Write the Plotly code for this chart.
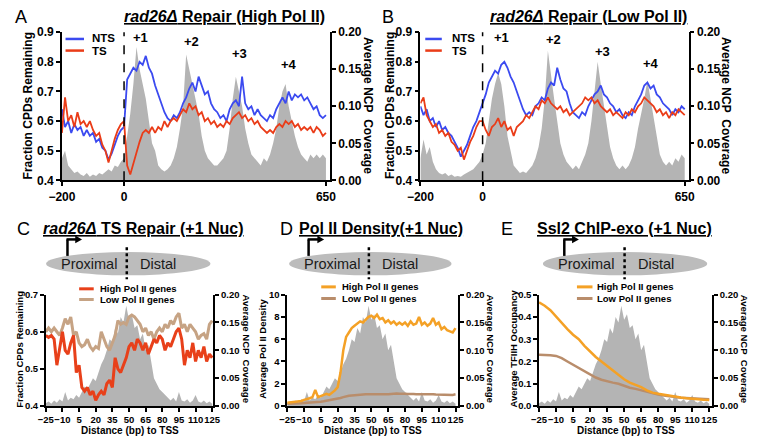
import plotly.graph_objects as go

W, H = 757, 444
FONT = "Liberation Sans"

# ---------------- data ----------------
TOP_X = list(range(-200, 651, 10))

A_NTS = [0.64, 0.58, 0.60, 0.56, 0.59, 0.57, 0.58, 0.55, 0.57, 0.55,
         0.56, 0.53, 0.54, 0.51, 0.50, 0.47, 0.49, 0.52, 0.55, 0.57,
         0.58, 0.74, 0.76, 0.78, 0.77, 0.80, 0.79, 0.82, 0.78, 0.76,
         0.72, 0.69, 0.66, 0.63, 0.61, 0.60, 0.62, 0.61, 0.63, 0.66,
         0.68, 0.71, 0.73, 0.70, 0.75, 0.72, 0.69, 0.70, 0.66, 0.64,
         0.63, 0.61, 0.62, 0.60, 0.64, 0.66, 0.67, 0.65, 0.75, 0.66,
         0.64, 0.65, 0.62, 0.64, 0.62, 0.61, 0.60, 0.62, 0.61, 0.64,
         0.66, 0.68, 0.66, 0.70, 0.67, 0.69, 0.68, 0.69, 0.67, 0.68,
         0.66, 0.64, 0.65, 0.62, 0.61, 0.62]
A_TS = [0.56, 0.68, 0.60, 0.62, 0.58, 0.63, 0.59, 0.60, 0.58, 0.60,
        0.57, 0.55, 0.56, 0.52, 0.50, 0.46, 0.50, 0.54, 0.57, 0.59,
        0.60, 0.45, 0.42, 0.46, 0.50, 0.53, 0.56, 0.57, 0.56, 0.58,
        0.56, 0.58, 0.57, 0.60, 0.58, 0.60, 0.61, 0.60, 0.62, 0.64,
        0.63, 0.66, 0.64, 0.65, 0.62, 0.63, 0.60, 0.61, 0.59, 0.60,
        0.58, 0.59, 0.58, 0.60, 0.59, 0.61, 0.62, 0.63, 0.61, 0.62,
        0.60, 0.61, 0.59, 0.60, 0.58, 0.57, 0.56, 0.57, 0.56, 0.58,
        0.59, 0.58, 0.60, 0.59, 0.60, 0.58, 0.59, 0.57, 0.58, 0.57,
        0.58, 0.56, 0.58, 0.57, 0.55, 0.56]
A_NCP = [0.030, 0.040, 0.020, 0.015, 0.010, 0.012, 0.008, 0.006, 0.010, 0.005,
         0.008, 0.006, 0.010, 0.008, 0.012, 0.015, 0.012, 0.020, 0.018, 0.025,
         0.030, 0.060, 0.090, 0.130, 0.180, 0.150, 0.130, 0.110, 0.080, 0.050,
         0.040, 0.020, 0.015, 0.012, 0.015, 0.020, 0.030, 0.045, 0.070, 0.100,
         0.170, 0.150, 0.130, 0.110, 0.090, 0.060, 0.040, 0.030, 0.025, 0.020,
         0.020, 0.025, 0.030, 0.040, 0.070, 0.110, 0.140, 0.120, 0.100, 0.070,
         0.050, 0.035, 0.030, 0.025, 0.020, 0.030, 0.025, 0.035, 0.050, 0.070,
         0.100, 0.120, 0.130, 0.100, 0.080, 0.060, 0.045, 0.035, 0.030, 0.025,
         0.035, 0.030, 0.035, 0.030, 0.035, 0.030]

B_NTS = [0.65, 0.62, 0.64, 0.60, 0.61, 0.58, 0.60, 0.57, 0.58, 0.56,
         0.55, 0.53, 0.51, 0.48, 0.50, 0.52, 0.55, 0.58, 0.60, 0.63,
         0.66, 0.69, 0.73, 0.75, 0.77, 0.76, 0.79, 0.80, 0.78, 0.75,
         0.73, 0.70, 0.67, 0.64, 0.62, 0.63, 0.62, 0.65, 0.66, 0.68,
         0.67, 0.71, 0.73, 0.72, 0.78, 0.74, 0.71, 0.70, 0.66, 0.63,
         0.62, 0.61, 0.63, 0.62, 0.65, 0.67, 0.69, 0.70, 0.72, 0.69,
         0.68, 0.66, 0.65, 0.63, 0.64, 0.62, 0.61, 0.63, 0.62, 0.65,
         0.67, 0.69, 0.72, 0.73, 0.71, 0.72, 0.69, 0.68, 0.66, 0.65,
         0.64, 0.62, 0.64, 0.63, 0.65, 0.64]
B_TS = [0.66, 0.68, 0.62, 0.60, 0.58, 0.59, 0.56, 0.57, 0.55, 0.56,
        0.53, 0.52, 0.50, 0.51, 0.47, 0.50, 0.53, 0.55, 0.58, 0.60,
        0.60, 0.57, 0.55, 0.58, 0.59, 0.61, 0.58, 0.60, 0.57, 0.58,
        0.55, 0.58, 0.59, 0.60, 0.62, 0.61, 0.63, 0.65, 0.64, 0.67,
        0.66, 0.68, 0.66, 0.65, 0.64, 0.65, 0.63, 0.64, 0.62, 0.63,
        0.64, 0.65, 0.66, 0.68, 0.67, 0.68, 0.66, 0.67, 0.65, 0.64,
        0.63, 0.64, 0.62, 0.63, 0.62, 0.61, 0.63, 0.62, 0.64, 0.63,
        0.65, 0.66, 0.68, 0.67, 0.66, 0.65, 0.63, 0.64, 0.62, 0.63,
        0.61, 0.63, 0.62, 0.64, 0.63, 0.62]
B_NCP = [0.030, 0.055, 0.035, 0.045, 0.025, 0.015, 0.010, 0.008, 0.010, 0.006,
         0.008, 0.005, 0.006, 0.005, 0.008, 0.010, 0.012, 0.015, 0.020, 0.025,
         0.035, 0.050, 0.080, 0.110, 0.130, 0.145, 0.130, 0.100, 0.060, 0.040,
         0.020, 0.015, 0.010, 0.012, 0.010, 0.015, 0.020, 0.030, 0.045, 0.070,
         0.110, 0.175, 0.140, 0.110, 0.080, 0.050, 0.035, 0.025, 0.020, 0.015,
         0.020, 0.015, 0.025, 0.035, 0.050, 0.080, 0.120, 0.160, 0.130, 0.100,
         0.070, 0.045, 0.030, 0.020, 0.015, 0.020, 0.015, 0.020, 0.030, 0.045,
         0.070, 0.090, 0.110, 0.135, 0.110, 0.080, 0.055, 0.035, 0.025, 0.020,
         0.025, 0.020, 0.030, 0.025, 0.035, 0.030]

BOT_X = [-25 + 2.5 * i for i in range(61)]
BOT_TICKS = [-25, -10, 5, 20, 35, 50, 65, 80, 95, 110, 125]

NCP_BOT = [0.005, 0.008, 0.004, 0.010, 0.006, 0.012, 0.008, 0.025, 0.010, 0.015,
           0.012, 0.020, 0.015, 0.025, 0.035, 0.030, 0.040, 0.050, 0.045, 0.060,
           0.075, 0.085, 0.100, 0.120, 0.115, 0.140, 0.130, 0.160, 0.150, 0.180,
           0.155, 0.165, 0.140, 0.145, 0.120, 0.130, 0.100, 0.110, 0.080, 0.050,
           0.040, 0.030, 0.025, 0.020, 0.015, 0.010, 0.015, 0.008, 0.025, 0.010,
           0.008, 0.012, 0.006, 0.010, 0.020, 0.008, 0.006, 0.010, 0.005, 0.008,
           0.004]

C_HIGH = [0.59, 0.585, 0.59, 0.58, 0.51, 0.56, 0.60, 0.55, 0.54, 0.57,
          0.59, 0.49, 0.51, 0.45, 0.44, 0.45, 0.43, 0.44, 0.415, 0.43,
          0.44, 0.43, 0.46, 0.47, 0.45, 0.53, 0.50, 0.49, 0.51, 0.53,
          0.56, 0.57, 0.55, 0.58, 0.57, 0.55, 0.57, 0.54, 0.56, 0.58,
          0.57, 0.59, 0.58, 0.55, 0.57, 0.56, 0.58, 0.60, 0.61, 0.58,
          0.51, 0.55, 0.53, 0.57, 0.52, 0.55, 0.53, 0.56, 0.52, 0.54,
          0.53]
C_LOW = [0.60, 0.61, 0.60, 0.61, 0.60, 0.59, 0.61, 0.635, 0.62, 0.64,
         0.59, 0.60, 0.57, 0.56, 0.565, 0.58, 0.56, 0.55, 0.56, 0.555,
         0.60, 0.58, 0.56, 0.55, 0.57, 0.59, 0.63, 0.62, 0.625, 0.62,
         0.64, 0.645, 0.64, 0.63, 0.62, 0.60, 0.61, 0.59, 0.60, 0.58,
         0.60, 0.61, 0.60, 0.62, 0.61, 0.63, 0.62, 0.64, 0.65, 0.61,
         0.62, 0.60, 0.62, 0.61, 0.60, 0.58, 0.59, 0.595, 0.58, 0.62,
         0.63]

D_HIGH = [0.30, 0.32, 0.35, 0.38, 0.42, 0.45, 0.55, 0.60, 0.70, 0.80,
          1.45, 0.80, 0.90, 1.00, 1.10, 1.00, 1.20, 1.40, 1.70, 3.00,
          5.00, 6.20, 6.60, 7.00, 7.20, 7.40, 7.60, 7.50, 7.80, 8.00,
          8.10, 7.90, 8.20, 7.80, 7.90, 7.50, 7.70, 7.40, 7.60, 7.30,
          7.50, 7.30, 7.50, 7.20, 7.60, 7.30, 7.40, 8.00, 7.30, 7.50,
          7.20, 7.40, 7.90, 7.30, 7.50, 6.90, 7.10, 6.80, 6.70, 6.60,
          7.00]
D_LOW = [0.20, 0.20, 0.22, 0.22, 0.24, 0.25, 0.27, 0.28, 0.30, 0.30,
         0.32, 0.35, 0.38, 0.42, 0.46, 0.50, 0.55, 0.60, 0.65, 0.72,
         0.80, 0.88, 0.92, 0.95, 0.98, 1.00, 1.00, 1.02, 1.05, 1.05,
         1.03, 1.05, 1.06, 1.04, 1.05, 1.06, 1.05, 1.08, 1.10, 1.12,
         1.10, 1.12, 1.10, 1.08, 1.10, 1.07, 1.05, 1.06, 1.04, 1.05,
         1.06, 1.04, 1.05, 1.03, 1.02, 1.05, 1.04, 1.02, 1.03, 1.00,
         1.05]

E_X = list(range(-25, 126, 5))
E_HIGH = [0.465, 0.45, 0.43, 0.40, 0.37, 0.345, 0.32, 0.30, 0.27, 0.245,
          0.22, 0.20, 0.18, 0.16, 0.14, 0.12, 0.105, 0.095, 0.085, 0.07,
          0.06, 0.055, 0.05, 0.045, 0.04, 0.038, 0.035, 0.032, 0.03, 0.028,
          0.027]
E_LOW = [0.23, 0.23, 0.228, 0.225, 0.215, 0.20, 0.185, 0.17, 0.155, 0.14,
         0.128, 0.118, 0.11, 0.105, 0.10, 0.09, 0.082, 0.077, 0.07, 0.065,
         0.058, 0.052, 0.047, 0.042, 0.04, 0.037, 0.035, 0.033, 0.032, 0.031,
         0.03]

# ---------------- styling ----------------
GRAY = "#b4b4b4"
BLUE = "#3b4af0"
RED = "#ea3c18"
C_RED = "#e8401a"
C_TAN = "#c6a384"
ORANGE = "#f4a126"
BROWN = "#b98d6b"


def fx(v):
    return v / W


def fy(v):
    return 1 - v / H


def tf(size):
    return dict(family=FONT, size=size, color="black", weight="bold")


def ax(**kw):
    d = dict(showline=True, linecolor="black", linewidth=1.5, ticks="outside",
             ticklen=4, tickwidth=1.5, tickcolor="black", showgrid=False,
             zeroline=False, fixedrange=True, tickangle=0)
    d.update(kw)
    return d


fig = go.Figure()

P = {
    "A": ("x", "y", "y2"),
    "B": ("x2", "y3", "y4"),
    "C": ("x3", "y5", "y6"),
    "D": ("x4", "y7", "y8"),
    "E": ("x5", "y9", "y10"),
}


def ncp(panel, xs, ys):
    xa, yr, _ = P[panel]
    fig.add_trace(go.Scatter(x=xs, y=ys, xaxis=xa, yaxis=yr, mode="lines",
                             fill="tozeroy", fillcolor=GRAY,
                             line=dict(width=0, color=GRAY), hoverinfo="skip"))


def curve(panel, xs, ys, color, width):
    xa, _, yl = P[panel]
    fig.add_trace(go.Scatter(x=xs, y=ys, xaxis=xa, yaxis=yl, mode="lines",
                             line=dict(color=color, width=width)))


ncp("A", TOP_X, A_NCP)
ncp("B", TOP_X, B_NCP)
ncp("C", BOT_X, NCP_BOT)
ncp("D", BOT_X, NCP_BOT)
ncp("E", BOT_X, NCP_BOT)

curve("A", TOP_X, A_NTS, BLUE, 1.8)
curve("A", TOP_X, A_TS, RED, 1.8)
curve("B", TOP_X, B_NTS, BLUE, 1.8)
curve("B", TOP_X, B_TS, RED, 1.8)
curve("C", BOT_X, C_LOW, C_TAN, 3)
curve("C", BOT_X, C_HIGH, C_RED, 3)
curve("D", BOT_X, D_LOW, BROWN, 2.5)
curve("D", BOT_X, D_HIGH, ORANGE, 2.5)
curve("E", E_X, E_LOW, BROWN, 2.5)
curve("E", E_X, E_HIGH, ORANGE, 2.5)

TOP_Y = [fy(179), fy(26)]
BOT_Y = [fy(412), fy(297)]
NCP_T = [0, 0.05, 0.10, 0.15, 0.20]

layout = dict(
    width=W, height=H, margin=dict(l=0, r=0, t=0, b=0),
    paper_bgcolor="white", plot_bgcolor="white", showlegend=False,
    font=dict(family=FONT, color="black"),
)


def set_panel(panel, xdom, ydom, xrange, xticks, lrange, lticks, lfmt, tsx, tsy):
    xa, yr, yl = P[panel]
    xk = "xaxis" + xa[1:]
    yrk = "yaxis" + yr[1:]
    ylk = "yaxis" + yl[1:]
    layout[xk] = ax(domain=[fx(xdom[0]), fx(xdom[1])], range=xrange,
                    tickvals=xticks, anchor=yr, tickfont=tf(tsx))
    layout[yrk] = ax(domain=ydom, range=[0, 0.2], side="right", anchor=xa,
                     tickvals=NCP_T, tickformat=".2f", tickfont=tf(tsy))
    layout[ylk] = ax(overlaying=yr, side="left", anchor=xa, range=lrange,
                     tickvals=lticks, tickformat=lfmt, tickfont=tf(tsy))


set_panel("A", (49.3, 325), TOP_Y, [-200, 663], [-200, 0, 650],
          [0.4, 0.9], [0.4, 0.5, 0.6, 0.7, 0.8, 0.9], ".1f", 12, 12)
set_panel("B", (418, 694), TOP_Y, [-200, 663], [-200, 0, 650],
          [0.4, 0.9], [0.4, 0.5, 0.6, 0.7, 0.8, 0.9], ".1f", 12, 12)
set_panel("C", (32.7, 205), BOT_Y, [-25, 126], BOT_TICKS,
          [0.4, 0.7], [0.4, 0.5, 0.6, 0.7], ".1f", 9.5, 9.5)
set_panel("D", (281, 457), BOT_Y, [-25, 127.5], BOT_TICKS,
          [0, 10], [0, 2, 4, 6, 8, 10], "d", 9.5, 9.5)
set_panel("E", (540, 718), BOT_Y, [-25, 127.5], BOT_TICKS,
          [0, 0.5], [0, 0.1, 0.2, 0.3, 0.4, 0.5], ".1f", 9.5, 9.5)

fig.update_layout(**layout)

# ---------------- annotations ----------------


def text(t, x, y, size, bold=True, angle=0, xanchor="center", underline=False,
         color="black"):
    fig.add_annotation(text=t, x=fx(x), y=fy(y), xref="paper", yref="paper",
                       showarrow=False, textangle=angle, xanchor=xanchor,
                       yanchor="middle", borderpad=0,
                       font=dict(family=FONT, size=size, color=color,
                                 weight="bold" if bold else "normal",
                                 lineposition="under" if underline else "none"))


def seg(x0, y0, x1, y1, color, width, dash="solid"):
    fig.add_shape(type="line", xref="paper", yref="paper", x0=fx(x0), y0=fy(y0),
                  x1=fx(x1), y1=fy(y1), line=dict(color=color, width=width, dash=dash))


for L, xx, yy in [("A", 7, 10), ("B", 385, 10), ("C", 10, 229), ("D", 280, 229), ("E", 507, 229)]:
    text(L, xx, yy, 18, bold=False)

text("<i>rad26Δ</i> Repair (High Pol II)", 217, 10, 16, underline=True)
text("<i>rad26Δ</i> Repair (Low Pol II)", 591, 10, 16, underline=True)
text("<i>rad26Δ</i> TS Repair (+1 Nuc)", 133, 229, 16, underline=True)
text("Pol II Density(+1 Nuc)", 377, 229, 16, underline=True)
text("Ssl2 ChIP-exo (+1 Nuc)", 628, 229, 16, underline=True)

for t, xx, yy in [("+1", 130, 32), ("+2", 183, 36), ("+3", 232, 48), ("+4", 283, 59),
                  ("+1", 501, 31), ("+2", 555, 34), ("+3", 605, 46), ("+4", 655, 58)]:
    text(t, xx, yy, 13)

for xa, yr in [("x", "y"), ("x2", "y3")]:
    fig.add_shape(type="line", xref=xa, yref=yr + " domain", x0=0, x1=0, y0=0, y1=1,
                  line=dict(color="black", width=1.5, dash="dash"))

for x0, x1, xt in [(53, 72, 79), (423, 440, 449)]:
    seg(x0, 33, x1, 33, BLUE, 2.5)
    seg(x0, 45, x1, 45, RED, 2.5)
    text("NTS", xt, 32.5, 11.5, xanchor="left")
    text("TS", xt, 45.5, 11.5, xanchor="left")

for xx in (14, 386):
    text("Fraction CPDs Remaining", xx, 102, 12, angle=-90)
for xx in (364, 733):
    text("Average NCP\u00a0 Coverage", xx, 102, 12, angle=90)

text("Fraction CPDs Remaining", 6, 353, 9.5, angle=-90)
text("Average Pol II Density", 256, 353, 9.5, angle=-90)
text("Average TFIIH Occupancy", 514, 353, 9.5, angle=-90)
for xx in (239, 490, 751):
    text("Average NCP\u00a0 Coverage", xx, 353, 9.5, angle=90)
for xx in (119, 369, 629):
    text("Distance (bp) to TSS", xx, 437, 10)

for x0, x1, xt, y1, y2, c1, c2 in [(67, 82, 87, 291, 302, C_RED, C_TAN),
                                   (316, 331, 336, 289, 301, ORANGE, BROWN),
                                   (579, 595, 599, 289, 301, ORANGE, BROWN)]:
    seg(x0, y1, x1, y1, c1, 3)
    seg(x0, y2, x1, y2, c2, 3)
    text("High Pol II genes", xt, y1, 9.5, xanchor="left")
    text("Low Pol II genes", xt, y2, 9.5, xanchor="left")

for ex0, ex1, vx, tip, dx, pcx, dcx in [(33, 202, 55, 70, 116, 77, 148),
                                        (283, 450, 303, 319, 365, 327, 397),
                                        (544, 713, 566, 581, 628, 588, 660)]:
    fig.add_shape(type="circle", xref="paper", yref="paper", x0=fx(ex0), x1=fx(ex1),
                  y0=fy(277), y1=fy(253), fillcolor="#bcbcbc", line=dict(width=0),
                  layer="below")
    seg(vx, 257, vx, 240, "black", 2.5)
    seg(vx - 1, 240, tip - 6, 240, "black", 2.5)
    fig.add_shape(type="path", xref="paper", yref="paper",
                  path=f"M {fx(tip)},{fy(240)} L {fx(tip - 7)},{fy(236)} L {fx(tip - 7)},{fy(244)} Z",
                  fillcolor="black", line=dict(width=0))
    seg(dx, 248, dx, 281, "black", 2.5, dash="dot")
    text("Proximal", pcx, 265, 14.5, bold=False, color="#1a1a1a")
    text("Distal", dcx, 265, 14.5, bold=False, color="#1a1a1a")

fig.write_html("out.html", config={"displayModeBar": False},
               post_script="document.body.style.margin='0px';document.body.style.overflow='hidden';")
